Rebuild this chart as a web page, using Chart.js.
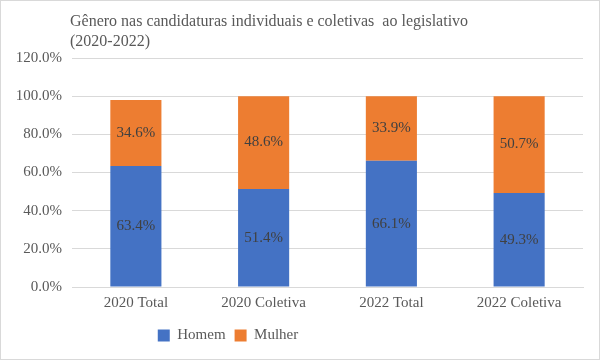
<!DOCTYPE html>
<html>
<head>
<meta charset="utf-8">
<script src="https://cdn.jsdelivr.net/npm/chart.js@4"></script>
<style>
  body { margin: 0; background: #fff; }
  #wrap { width: 600px; height: 360px; box-sizing: border-box; border: 1px solid #d9d9d9; }
</style>
</head>
<body>
<div id="wrap"><canvas id="chart" width="598" height="358"></canvas></div>
<script>
const categories = ['2020 Total', '2020 Coletiva', '2022 Total', '2022 Coletiva'];
const homem = [63.4, 51.4, 66.1, 49.3];
const mulher = [34.6, 48.6, 33.9, 50.7];
const titleLines = ['Gênero nas candidaturas individuais e coletivas  ao legislativo', '(2020-2022)'];

const serif = '"Liberation Serif", "Times New Roman", serif';

// title drawn by hand so it can sit left, like the Excel original
const titlePlugin = {
  id: 'leftTitle',
  afterDraw(chart) {
    const ctx = chart.ctx;
    ctx.save();
    ctx.fillStyle = '#595959';
    ctx.font = '16px ' + serif;
    ctx.textBaseline = 'alphabetic';
    ctx.textAlign = 'left';
    titleLines.forEach((t, i) => ctx.fillText(t, 69, 25 + i * 20));
    ctx.restore();
  }
};

// legend in the original sits left of centre
const legendShift = {
  id: 'legendShift',
  afterLayout(chart) {
    chart.legend.left -= 64;
    chart.legend.right -= 64;
  }
};

// percent labels in the middle of each segment
const labelPlugin = {
  id: 'segLabels',
  afterDatasetsDraw(chart) {
    const ctx = chart.ctx;
    ctx.save();
    ctx.fillStyle = '#404040';
    ctx.font = '15px ' + serif;
    ctx.textAlign = 'center';
    ctx.textBaseline = 'middle';
    chart.data.datasets.forEach((ds, di) => {
      chart.getDatasetMeta(di).data.forEach((bar, i) => {
        const mid = (bar.y + bar.base) / 2;
        ctx.fillText(ds.data[i].toFixed(1) + '%', bar.x, mid);
      });
    });
    ctx.restore();
  }
};

new Chart(document.getElementById('chart'), {
  type: 'bar',
  data: {
    labels: categories,
    datasets: [
      { label: 'Homem', data: homem, backgroundColor: '#4472C4', barPercentage: 0.4, categoryPercentage: 1 },
      { label: 'Mulher', data: mulher, backgroundColor: '#ED7D31', barPercentage: 0.4, categoryPercentage: 1 }
    ]
  },
  options: {
    responsive: false,
    animation: false,
    layout: { padding: { top: 57, right: 16, left: 0, bottom: 6 } },
    scales: {
      x: {
        stacked: true,
        grid: { display: false, drawTicks: false },
        border: { color: '#d9d9d9' },
        ticks: { color: '#595959', font: { family: serif, size: 15 }, padding: 7 }
      },
      y: {
        stacked: true,
        min: 0,
        max: 120,
        afterFit(scale) { scale.width = 71; },
        grid: { color: '#d9d9d9', drawTicks: false },
        border: { display: false },
        ticks: {
          stepSize: 20,
          padding: 10,
          color: '#595959',
          font: { family: serif, size: 15 },
          callback: v => v.toFixed(1) + '%'
        }
      }
    },
    plugins: {
      legend: {
        position: 'bottom',
        labels: {
          boxWidth: 12,
          boxHeight: 12,
          padding: 9,
          color: '#595959',
          font: { family: serif, size: 15 }
        }
      },
      tooltip: { enabled: false }
    }
  },
  plugins: [titlePlugin, labelPlugin, legendShift]
});
</script>
</body>
</html>
